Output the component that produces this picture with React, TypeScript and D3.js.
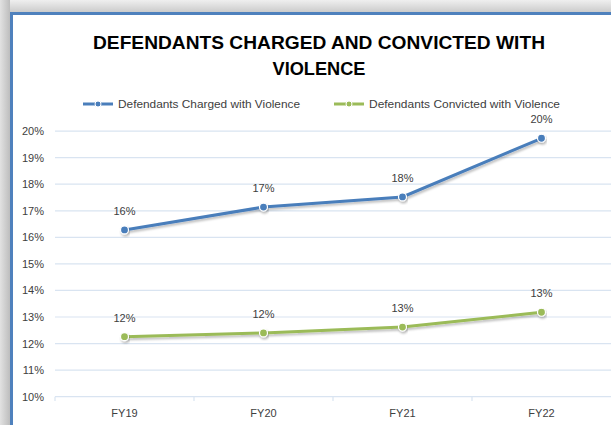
import React from "react";
import * as d3 from "d3";

const categories = ["FY19", "FY20", "FY21", "FY22"];
const charged = [16.28, 17.14, 17.52, 19.73];
const convicted = [12.26, 12.4, 12.62, 13.18];
const yTicks = [10, 11, 12, 13, 14, 15, 16, 17, 18, 19, 20];
const seriesNames = ["Defendants Charged with Violence", "Defendants Convicted with Violence"];
const colors = ["#4a7ebb", "#9bbb59"];

export default function App() {
  const W = 611, H = 425;
  const x = d3.scaleBand().domain(categories).range([55, 611]);
  const y = d3.scaleLinear().domain([10, 20]).range([396.7, 131.1]);
  const line = d3.line<number>().x((_, i) => x(categories[i])! + x.bandwidth() / 2).y((d) => y(d));
  const series = [charged, convicted];
  const font = "'Liberation Sans', Arial, sans-serif";
  return (
    <svg width={W} height={H} style={{ position: "absolute", left: 0, top: 0 }}>
      <defs>
        <linearGradient id="topg" x1="0" y1="0" x2="0" y2="1">
          <stop offset="0" stopColor="#efefef" />
          <stop offset="1" stopColor="#c9c9c9" />
        </linearGradient>
        <linearGradient id="leftg" x1="0" y1="0" x2="1" y2="0">
          <stop offset="0" stopColor="#e2e2e2" />
          <stop offset="1" stopColor="#bdbdbd" />
        </linearGradient>
        <filter id="sh" x="-10%" y="-50%" width="120%" height="200%">
          <feDropShadow dx="1" dy="2" stdDeviation="1.2" floodColor="#000" floodOpacity="0.25" />
        </filter>
      </defs>
      <rect x={0} y={0} width={W} height={H} fill="#fff" />
      <rect x={0} y={0} width={W} height={13} fill="url(#topg)" />
      <rect x={0} y={0} width={10} height={H} fill="url(#leftg)" />
      <line x1={11} y1={13.5} x2={W} y2={13.5} stroke="#4f81bd" strokeWidth={3} />
      <line x1={11.5} y1={12} x2={11.5} y2={H} stroke="#4f81bd" strokeWidth={3} />

      <text x={319} y={49} textAnchor="middle" fontFamily={font} fontWeight="bold" fontSize={18.5} fill="#000" textLength={452} lengthAdjust="spacingAndGlyphs">DEFENDANTS CHARGED AND CONVICTED WITH</text>
      <text x={319} y={75} textAnchor="middle" fontFamily={font} fontWeight="bold" fontSize={18.5} fill="#000" textLength={93} lengthAdjust="spacingAndGlyphs">VIOLENCE</text>

      {[83, 334].map((lx, i) => (
        <g key={i}>
          <line x1={lx} x2={lx + 30} y1={104} y2={104} stroke={colors[i]} strokeWidth={3} />
          <circle cx={lx + 15} cy={104} r={3} fill={colors[i]} stroke="#fff" strokeWidth={1} />
          <text x={lx + 35} y={108} fontFamily={font} fontSize={11} fill="#404040" textLength={i === 0 ? 182 : 191} lengthAdjust="spacingAndGlyphs">{seriesNames[i]}</text>
        </g>
      ))}

      {yTicks.map((t) => (
        <g key={t}>
          <line x1={55} x2={W} y1={y(t)} y2={y(t)} stroke="#d9e4f1" strokeWidth={1.2} />
          <text x={44} y={y(t) + 4} textAnchor="end" fontFamily={font} fontSize={11} fill="#404040">{t}%</text>
        </g>
      ))}
      {categories.map((c) => (
        <g key={c}>
          <line x1={x(c)!} x2={x(c)!} y1={396.7} y2={401} stroke="#d9e4f1" strokeWidth={1.2} />
          <text x={x(c)! + x.bandwidth() / 2} y={417} textAnchor="middle" fontFamily={font} fontSize={11} fill="#404040">{c}</text>
        </g>
      ))}

      {series.map((s, si) => (
        <g key={si}>
          <path d={line(s)!} fill="none" stroke={colors[si]} strokeWidth={3} filter="url(#sh)" />
          {s.map((v, i) => {
            const cx = x(categories[i])! + x.bandwidth() / 2;
            return (
              <g key={i}>
                <circle cx={cx} cy={y(v)} r={4} fill={colors[si]} stroke="#fff" strokeWidth={1.2} filter="url(#sh)" />
                <text x={cx} y={y(v) - 15} textAnchor="middle" fontFamily={font} fontSize={11} fill="#404040">{Math.round(v)}%</text>
              </g>
            );
          })}
        </g>
      ))}
    </svg>
  );
}
